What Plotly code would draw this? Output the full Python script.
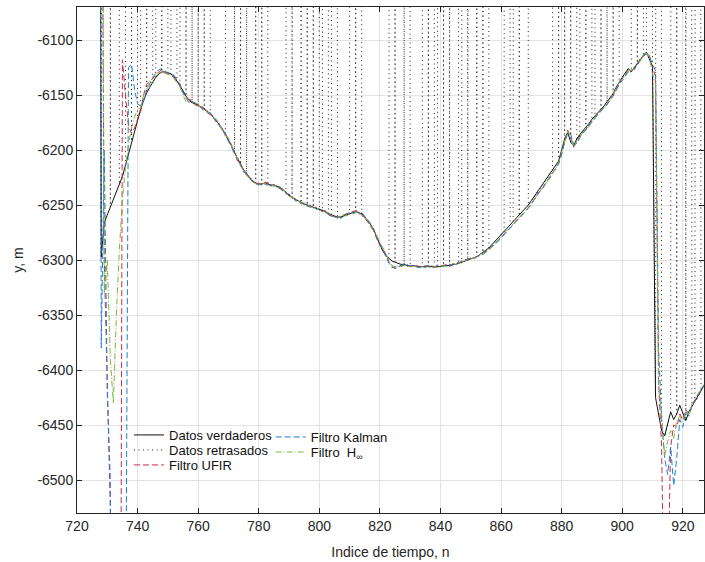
import plotly.graph_objects as go

# Time index shared by every series
n = list(range(727, 928))

# True trajectory (y coordinate, m)
verdaderos = [
    -5000, -6297, -6266, -6259, -6252, -6245, -6238, -6231, -6224, -6214, -6204, -6192, -6182, -6172,
    -6163, -6155, -6148, -6143, -6138, -6134, -6131, -6129, -6129, -6130,
    -6131, -6133, -6137, -6141, -6146, -6151, -6155, -6157, -6158, -6159,
    -6161, -6163, -6165, -6167, -6170, -6173, -6177, -6181, -6186, -6190,
    -6196, -6202, -6208, -6213, -6218, -6222, -6225, -6228, -6230, -6231,
    -6231, -6230, -6231, -6232, -6232, -6233, -6234, -6236, -6239, -6241,
    -6243, -6245, -6246, -6248, -6249, -6250, -6251, -6252, -6253, -6254,
    -6255, -6256, -6258, -6259, -6260, -6261, -6261, -6260, -6259, -6258,
    -6257, -6256, -6257, -6258, -6261, -6264, -6268, -6273, -6279, -6286,
    -6292, -6296, -6299, -6301, -6302, -6303, -6304, -6304, -6305, -6305,
    -6305, -6306, -6306, -6306, -6306, -6306, -6306, -6306, -6306, -6306,
    -6305, -6305, -6305, -6304, -6304, -6303, -6302, -6301, -6300, -6299,
    -6298, -6297, -6295, -6293, -6291, -6289, -6286, -6283, -6280, -6277,
    -6274, -6271, -6268, -6265, -6262, -6260, -6257, -6254, -6250, -6246,
    -6242, -6238, -6235, -6231, -6227, -6223, -6219, -6215, -6210, -6200,
    -6190, -6184, -6193, -6196, -6190, -6186, -6183, -6180, -6176, -6172,
    -6169, -6166, -6163, -6160, -6156, -6153, -6149, -6143, -6138, -6134,
    -6130, -6126, -6129, -6125, -6121, -6117, -6114, -6111, -6118, -6124,
    -6425, -6440, -6455, -6460, -6450, -6438, -6445, -6440, -6432, -6440, -6446, -6438, -6433, -6428, -6424, -6419, -6414,
]

# UFIR filter estimate
ufir = [
    -4800, -5800, -6300, -6418, -6525, -7000, -7800, -7100, -6118, -6150, -6178, -6185, -6180, -6172,
    -6165, -6150, -6140, -6138, -6135, -6132, -6129, -6127, -6130, -6131,
    -6132, -6134, -6136, -6140, -6148, -6152, -6154, -6156, -6159, -6160,
    -6160, -6162, -6166, -6168, -6169, -6174, -6178, -6182, -6185, -6191,
    -6195, -6203, -6210, -6212, -6219, -6223, -6224, -6229, -6231, -6230,
    -6232, -6229, -6230, -6233, -6231, -6234, -6235, -6237, -6238, -6242,
    -6244, -6244, -6247, -6247, -6250, -6251, -6250, -6253, -6252, -6255,
    -6256, -6255, -6259, -6260, -6259, -6262, -6260, -6259, -6258, -6257,
    -6256, -6255, -6256, -6259, -6262, -6265, -6269, -6272, -6280, -6287,
    -6290, -6295, -6302, -6306, -6308, -6306, -6305, -6305, -6304, -6306,
    -6306, -6305, -6306, -6307, -6306, -6305, -6306, -6307, -6306, -6305,
    -6305, -6304, -6306, -6304, -6303, -6302, -6302, -6300, -6299, -6299,
    -6298, -6297, -6296, -6294, -6292, -6290, -6288, -6285, -6282, -6279,
    -6276, -6274, -6271, -6268, -6264, -6262, -6259, -6256, -6252, -6249,
    -6245, -6240, -6237, -6234, -6229, -6226, -6221, -6217, -6212, -6203,
    -6192, -6182, -6188, -6197, -6193, -6187, -6185, -6181, -6178, -6173,
    -6170, -6167, -6165, -6161, -6158, -6155, -6150, -6145, -6139, -6135,
    -6132, -6127, -6127, -6127, -6122, -6116, -6115, -6112, -6114, -6125,
    -6133, -6410, -6470, -6650, -6600, -6470, -6450, -6452, -6440, -6445, -6436, -6440, -6432, -6429, -6425, -6419, -6415,
]

# Kalman filter estimate
kalman = [
    -4800, -6380, -6200, -6420, -6500, -7200, -8000, -7600, -7000, -6700, -6125, -6122, -6145, -6158,
    -6160, -6155, -6146, -6140, -6134, -6130, -6127, -6126, -6128, -6130,
    -6130, -6132, -6136, -6142, -6147, -6153, -6157, -6156, -6157, -6160,
    -6162, -6164, -6166, -6166, -6171, -6175, -6178, -6180, -6187, -6192,
    -6197, -6204, -6207, -6214, -6220, -6221, -6226, -6229, -6230, -6232,
    -6230, -6231, -6232, -6231, -6233, -6232, -6235, -6237, -6240, -6240,
    -6242, -6246, -6247, -6249, -6248, -6251, -6252, -6251, -6254, -6253,
    -6254, -6257, -6258, -6260, -6261, -6260, -6262, -6261, -6258, -6257,
    -6258, -6257, -6256, -6257, -6260, -6263, -6267, -6274, -6281, -6285,
    -6291, -6297, -6303, -6307, -6306, -6307, -6305, -6304, -6306, -6305,
    -6305, -6306, -6307, -6306, -6305, -6306, -6307, -6306, -6305, -6306,
    -6306, -6305, -6304, -6305, -6303, -6303, -6301, -6301, -6300, -6298,
    -6299, -6297, -6296, -6295, -6293, -6290, -6288, -6286, -6283, -6280,
    -6277, -6274, -6272, -6268, -6266, -6262, -6260, -6257, -6253, -6249,
    -6245, -6242, -6238, -6234, -6230, -6225, -6222, -6217, -6213, -6204,
    -6193, -6185, -6186, -6195, -6194, -6189, -6184, -6182, -6177, -6175,
    -6171, -6168, -6164, -6162, -6159, -6154, -6151, -6146, -6140, -6137,
    -6133, -6129, -6128, -6126, -6123, -6118, -6114, -6113, -6115, -6122,
    -6128, -6380, -6445, -6480, -6495, -6470, -6505, -6480, -6445, -6452, -6438, -6442, -6433, -6427, -6423, -6418, -6414,
]

# H-infinity filter estimate
hinf = [
    -4800, -5500, -6330, -6300, -6390, -6430, -6350, -6290, -6245, -6215, -6195, -6180, -6170, -6163,
    -6162, -6150, -6145, -6137, -6140, -6133, -6130, -6128, -6129, -6131,
    -6131, -6135, -6138, -6143, -6150, -6156, -6153, -6155, -6159, -6158,
    -6162, -6163, -6164, -6168, -6171, -6172, -6176, -6182, -6187, -6189,
    -6196, -6201, -6209, -6215, -6217, -6223, -6226, -6227, -6231, -6232,
    -6231, -6230, -6232, -6233, -6232, -6234, -6233, -6236, -6239, -6242,
    -6243, -6245, -6245, -6249, -6250, -6249, -6252, -6253, -6252, -6255,
    -6255, -6256, -6257, -6259, -6261, -6262, -6260, -6259, -6260, -6258,
    -6257, -6256, -6258, -6259, -6262, -6264, -6270, -6274, -6278, -6284,
    -6289, -6294, -6301, -6305, -6307, -6305, -6306, -6305, -6305, -6306,
    -6306, -6306, -6305, -6306, -6307, -6306, -6305, -6306, -6307, -6306,
    -6305, -6306, -6305, -6303, -6304, -6302, -6303, -6300, -6301, -6299,
    -6298, -6298, -6295, -6294, -6292, -6291, -6287, -6285, -6282, -6278,
    -6275, -6273, -6270, -6267, -6265, -6261, -6258, -6256, -6252, -6248,
    -6244, -6241, -6236, -6233, -6230, -6224, -6220, -6218, -6211, -6202,
    -6191, -6183, -6189, -6198, -6192, -6188, -6183, -6180, -6179, -6174,
    -6170, -6166, -6164, -6161, -6157, -6154, -6150, -6144, -6138, -6135,
    -6131, -6128, -6130, -6124, -6120, -6119, -6113, -6112, -6117, -6131,
    -6140, -6415, -6440, -6478, -6465, -6455, -6462, -6446, -6442, -6447, -6437, -6440, -6431, -6426, -6422, -6417, -6413,
]

# Time indices whose measurement arrived late (stored as a zero reading)
indices_retrasados = [
    729, 730, 732, 733, 737, 739, 742, 744, 747, 749, 752, 755, 757, 759, 761, 763,
    770, 771, 773, 775, 777, 778, 780, 782, 790, 792, 793, 795, 797, 799, 802, 805,
    811, 813, 824, 826, 827, 829, 835, 837, 840, 842, 844, 845, 848, 850, 851, 853,
    855, 862, 865, 867, 868, 878, 880, 882, 884, 887, 889, 892, 894, 896, 898, 904,
    906, 909, 912, 917, 919, 920, 922, 925,
]
valor_perdido = 0

retrasados = [valor_perdido if k in indices_retrasados else v for k, v in zip(n, verdaderos)]

x_ticks = [720, 740, 760, 780, 800, 820, 840, 860, 880, 900, 920]
y_ticks = [-6500, -6450, -6400, -6350, -6300, -6250, -6200, -6150, -6100]
y_tick_labels = ["-6500", "-6450", "-6400", "-6350", "-6300", "-6250", "-6200", "-6150", "-6100"]

FONT = "Liberation Sans, Arial, Helvetica, sans-serif"
AXIS_COLOR = "#262626"
GRID_COLOR = "#e3e3e3"

fig = go.Figure()

fig.add_trace(go.Scatter(
    x=n, y=retrasados, mode="lines", name="Datos retrasados",
    line=dict(color="#222222", width=1, dash="1px,3.5px"),
    legend="legend2",
))
fig.add_trace(go.Scatter(
    x=n, y=verdaderos, mode="lines", name="Datos verdaderos",
    line=dict(color="#111111", width=1),
    legend="legend",
))
fig.add_trace(go.Scatter(
    x=n, y=ufir, mode="lines", name="Filtro UFIR",
    line=dict(color="#d42a46", width=1, dash="6px,3px"),
    legend="legend3",
))
fig.add_trace(go.Scatter(
    x=n, y=kalman, mode="lines", name="Filtro Kalman",
    line=dict(color="#1f7fd0", width=1, dash="6px,3px"),
    legend="legend4",
))
fig.add_trace(go.Scatter(
    x=n, y=hinf, mode="lines", name="Filtro  H<sub>∞</sub>",
    line=dict(color="#80b43a", width=1, dash="6px,2px,1px,2px"),
    legend="legend5",
))

axis_common = dict(
    showline=True, linecolor=AXIS_COLOR, linewidth=1, mirror="ticks",
    ticks="inside", ticklen=5, tickcolor=AXIS_COLOR, tickwidth=1,
    showgrid=True, gridcolor=GRID_COLOR, gridwidth=1, zeroline=False,
    tickfont=dict(family=FONT, size=14, color="#262626"),
)


def legend_box(x, y):
    # one entry per box so rows can be packed as tightly as the original legend
    return dict(
        x=x, y=y, xanchor="left", yanchor="middle",
        bgcolor="rgba(0,0,0,0)", borderwidth=0,
        font=dict(family=FONT, size=13, color="#111111"),
        itemwidth=30,
    )


fig.update_layout(
    width=705, height=562,
    margin=dict(l=77, r=1, t=7, b=49),
    paper_bgcolor="white", plot_bgcolor="white",
    font=dict(family=FONT, size=14, color="#262626"),
    xaxis=dict(
        range=[720, 927], tickvals=x_ticks,
        title=dict(text="Indice de tiempo, n", font=dict(family=FONT, size=14), standoff=14),
        **axis_common,
    ),
    yaxis=dict(
        range=[-6530, -6070], tickvals=y_ticks, ticktext=y_tick_labels,
        title=dict(text="y, m", font=dict(family=FONT, size=14), standoff=10),
        **axis_common,
    ),
    legend=legend_box(0.083, 0.1542),
    legend2=legend_box(0.083, 0.1245),
    legend3=legend_box(0.083, 0.0949),
    legend4=legend_box(0.309, 0.1502),
    legend5=legend_box(0.309, 0.1206),
    showlegend=True,
)

fig.write_html("out.html")
